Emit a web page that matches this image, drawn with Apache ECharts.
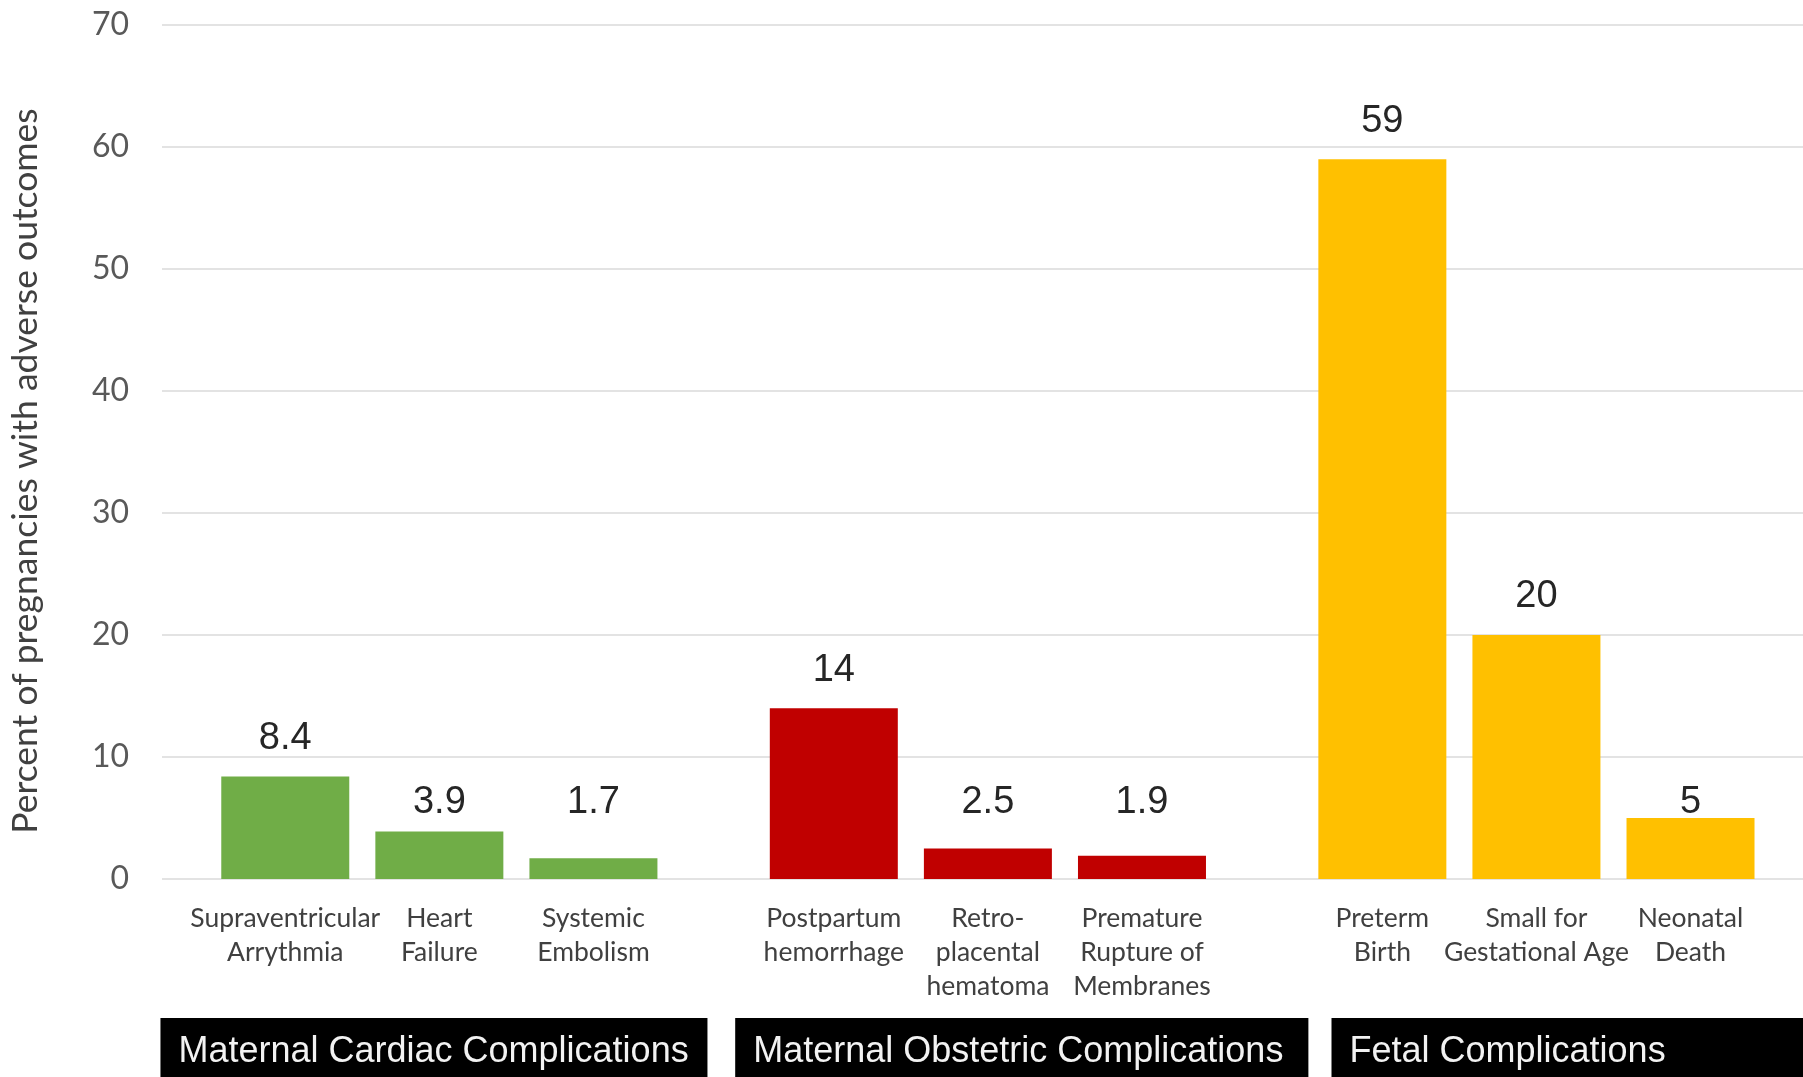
<!DOCTYPE html>
<html>
<head>
<meta charset="utf-8">
<script src="https://cdn.jsdelivr.net/npm/echarts@6/dist/echarts.min.js"></script>
<style>
  html, body { margin: 0; padding: 0; background: #fff; }
  #mainChart { width: 1803px; height: 1077px; }
</style>
</head>
<body>
<div id="mainChart"></div>
<script>
// groups and their outcomes
var groupNames = ['Maternal Cardiac Complications', 'Maternal Obstetric Complications', 'Fetal Complications'];
var groupColors = ['#70AD47', '#C00000', '#FFC000'];
var cardiacLabels = ['Supraventricular\nArrythmia', 'Heart\nFailure', 'Systemic\nEmbolism'];
var obstetricLabels = ['Postpartum\nhemorrhage', 'Retro-\nplacental\nhematoma', 'Premature\nRupture of\nMembranes'];
var fetalLabels = ['Preterm\nBirth', 'Small for\nGestational Age', 'Neonatal\nDeath'];
var cardiacValues = [8.4, 3.9, 1.7];
var obstetricValues = [14, 2.5, 1.9];
var fetalValues = [59, 20, 5];
var yTicks = [0, 10, 20, 30, 40, 50, 60, 70];

var groupLabels = [cardiacLabels, obstetricLabels, fetalLabels];
var groupValues = [cardiacValues, obstetricValues, fetalValues];

// layout
var gridTop = 25, gridBottom = 198, gridLeft = 160;
var gridHeight = 1077 - gridTop - gridBottom;
var yMax = yTicks[yTicks.length - 1];
var ppu = gridHeight / yMax;
var groupStride = 3.56;   // bars per group + gap between groups

var positions = [], names = [], barData = [];

function labelDistance(v) {
  // small bars share one label line
  return v < 6 ? (6.3 - v) * ppu - 19 : 19;
}

groupLabels.forEach(function (labels, g) {
  labels.forEach(function (name, j) {
    var x = g * groupStride + j;
    var v = groupValues[g][j];
    positions.push(x);
    names.push(name);
    barData.push({
      value: [x, v],
      itemStyle: { color: groupColors[g] },
      label: { distance: labelDistance(v) }
    });
  });
});

var myChart = echarts.init(document.getElementById('mainChart'));
myChart.setOption({
  animation: false,
  grid: { left: gridLeft, right: 0, top: gridTop, bottom: gridBottom },
  xAxis: {
    type: 'value',
    min: -0.8,
    max: 9.85,
    splitLine: { show: false },
    axisLine: { show: false },
    axisTick: { show: false },
    axisLabel: {
      customValues: positions,
      formatter: function (val) {
        for (var i = 0; i < positions.length; i++) {
          if (Math.abs(positions[i] - val) < 1e-6) return names[i];
        }
        return '';
      },
      verticalAlign: 'top',
      margin: 22,
      color: '#404040',
      fontFamily: 'Lato',
      fontSize: 26.5,
      lineHeight: 34
    }
  },
  yAxis: {
    type: 'value',
    min: 0,
    max: yMax,
    interval: 10,
    name: 'Percent of pregnancies with adverse outcomes',
    nameLocation: 'middle',
    nameGap: 118,
    nameTextStyle: {
      color: '#404040',
      fontFamily: 'Lato',
      fontSize: 35.5,
      padding: [0, 38, 0, 0]
    },
    axisLine: { show: false },
    axisTick: { show: false },
    axisLabel: {
      margin: 33,
      color: '#595959',
      fontFamily: 'Lato',
      fontSize: 32
    },
    splitLine: { lineStyle: { color: '#E3E3E3', width: 2 } }
  },
  series: [{
    type: 'bar',
    barWidth: 128,
    label: {
      show: true,
      position: 'top',
      color: '#262626',
      fontFamily: 'Liberation Sans, Arial',
      fontSize: 38
    },
    data: barData
  }]
});

// black group headers under the axis labels
var headerBands = [[-0.81, 2.74], [2.92, 6.64], [6.79, 9.85]];
var graphics = [];
headerBands.forEach(function (band, g) {
  var x0 = myChart.convertToPixel({ xAxisIndex: 0 }, band[0]);
  var x1 = myChart.convertToPixel({ xAxisIndex: 0 }, band[1]);
  graphics.push({
    type: 'rect',
    shape: { x: x0, y: 1018, width: x1 - x0, height: 70 },
    style: { fill: '#000' }
  });
  graphics.push({
    type: 'text',
    x: x0 + 18,
    y: 1052,
    style: {
      text: groupNames[g],
      fill: '#F2F2F2',
      font: '36px "Liberation Sans", Arial',
      verticalAlign: 'middle'
    }
  });
});
myChart.setOption({ graphic: graphics });
</script>
</body>
</html>
